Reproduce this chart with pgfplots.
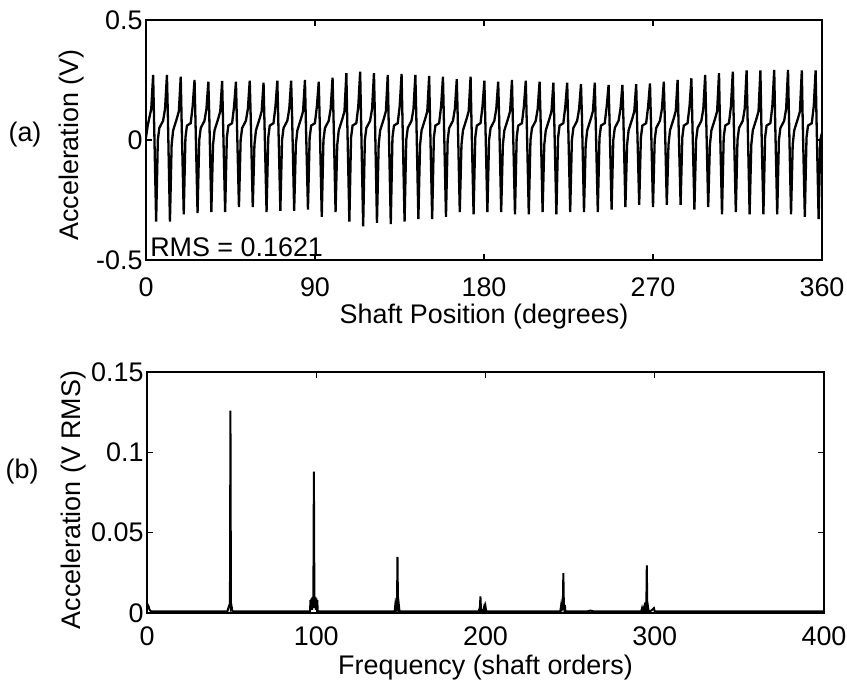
\documentclass[border=0pt]{standalone}
\usepackage{fontspec}
\setmainfont{Liberation Sans}
\usepackage{pgfplots}
\pgfplotsset{compat=1.18}

\pgfplotsset{
  matlabbox/.style={
    scale only axis,
    clip mode=individual,
    axis line style={line width=1.4bp},
    tick align=inside,
    major tick length=6bp,
    every tick/.style={line width=1.2bp, black},
    font=\fontsize{27}{31}\selectfont,
    tick label style={font=\fontsize{27}{31}\selectfont},
    label style={font=\fontsize{27}{31}\selectfont},
    /pgf/number format/assume math mode=true,
    scaled ticks=false,
  },
}

\begin{document}
\begin{tikzpicture}
\useasboundingbox (0,0) rectangle (847bp,683bp);

% (a) time signal
\begin{axis}[matlabbox,
    at={(146bp,423bp)}, anchor=south west,
    width=676bp, height=240bp,
    xmin=0, xmax=360, ymin=-0.5, ymax=0.5,
    xtick={0,90,180,270,360},
    ytick={-0.5,0,0.5}, yticklabels={-0.5,0,0.5},
    xticklabel style={yshift=-14bp},
    xlabel={Shaft Position (degrees)},
    ylabel={Acceleration (V)},
    xlabel style={at={(axis description cs:0.5,-0.237)}, anchor=center},
    ylabel style={at={(axis description cs:-0.1095,0.479)}, anchor=center},
]
\addplot[black, line width=2.3bp] coordinates {
(0,0.01)(0.9,0.06)(2.8,0.13)
(3.80,0.271)(4.30,0.08)(5.40,-0.34)(6.30,0.00)(7.10,0.05)(9.10,0.08)(10.15,0.13)
(11.15,0.271)(11.65,0.10)(12.75,-0.34)(13.65,-0.02)(14.45,0.04)(16.45,0.09)(17.50,0.12)
(18.50,0.264)(19.00,0.07)(20.10,-0.31)(21.00,0.01)(21.80,0.06)(23.80,0.07)(24.85,0.14)
(25.85,0.25)(26.35,0.08)(27.45,-0.305)(28.35,0.00)(29.15,0.05)(31.15,0.08)(32.20,0.13)
(33.20,0.243)(33.70,0.10)(34.80,-0.30)(35.70,-0.02)(36.50,0.04)(38.50,0.09)(39.55,0.12)
(40.55,0.246)(41.05,0.07)(42.15,-0.30)(43.05,0.01)(43.85,0.06)(45.85,0.07)(46.90,0.14)
(47.90,0.243)(48.40,0.08)(49.50,-0.28)(50.40,0.00)(51.20,0.05)(53.20,0.08)(54.25,0.13)
(55.25,0.247)(55.75,0.10)(56.85,-0.28)(57.75,-0.02)(58.55,0.04)(60.55,0.09)(61.60,0.12)
(62.60,0.239)(63.10,0.07)(64.20,-0.30)(65.10,0.01)(65.90,0.06)(67.90,0.07)(68.95,0.14)
(69.95,0.247)(70.45,0.08)(71.55,-0.295)(72.45,0.00)(73.25,0.05)(75.25,0.08)(76.30,0.13)
(77.30,0.247)(77.80,0.10)(78.90,-0.295)(79.80,-0.02)(80.60,0.04)(82.60,0.09)(83.65,0.12)
(84.65,0.25)(85.15,0.07)(86.25,-0.29)(87.15,0.01)(87.95,0.06)(89.95,0.07)(91.00,0.14)
(92.00,0.243)(92.50,0.08)(93.60,-0.32)(94.50,0.00)(95.30,0.05)(97.30,0.08)(98.35,0.13)
(99.35,0.26)(99.85,0.10)(100.95,-0.30)(101.85,-0.02)(102.65,0.04)(104.65,0.09)(105.70,0.12)
(106.70,0.278)(107.20,0.07)(108.30,-0.34)(109.20,0.01)(110.00,0.06)(112.00,0.07)(113.05,0.14)
(114.05,0.285)(114.55,0.08)(115.65,-0.36)(116.55,0.00)(117.35,0.05)(119.35,0.08)(120.40,0.13)
(121.40,0.278)(121.90,0.10)(123.00,-0.345)(123.90,-0.02)(124.70,0.04)(126.70,0.09)(127.75,0.12)
(128.75,0.271)(129.25,0.07)(130.35,-0.35)(131.25,0.01)(132.05,0.06)(134.05,0.07)(135.10,0.14)
(136.10,0.275)(136.60,0.08)(137.70,-0.34)(138.60,0.00)(139.40,0.05)(141.40,0.08)(142.45,0.13)
(143.45,0.271)(143.95,0.10)(145.05,-0.33)(145.95,-0.02)(146.75,0.04)(148.75,0.09)(149.80,0.12)
(150.80,0.267)(151.30,0.07)(152.40,-0.33)(153.30,0.01)(154.10,0.06)(156.10,0.07)(157.15,0.14)
(158.15,0.264)(158.65,0.08)(159.75,-0.32)(160.65,0.00)(161.45,0.05)(163.45,0.08)(164.50,0.13)
(165.50,0.253)(166.00,0.10)(167.10,-0.30)(168.00,-0.02)(168.80,0.04)(170.80,0.09)(171.85,0.12)
(172.85,0.264)(173.35,0.07)(174.45,-0.31)(175.35,0.01)(176.15,0.06)(178.15,0.07)(179.20,0.14)
(180.20,0.247)(180.70,0.08)(181.80,-0.30)(182.70,0.00)(183.50,0.05)(185.50,0.08)(186.55,0.13)
(187.55,0.243)(188.05,0.10)(189.15,-0.30)(190.05,-0.02)(190.85,0.04)(192.85,0.09)(193.90,0.12)
(194.90,0.25)(195.40,0.07)(196.50,-0.31)(197.40,0.01)(198.20,0.06)(200.20,0.07)(201.25,0.14)
(202.25,0.247)(202.75,0.08)(203.85,-0.31)(204.75,0.00)(205.55,0.05)(207.55,0.08)(208.60,0.13)
(209.60,0.243)(210.10,0.10)(211.20,-0.30)(212.10,-0.02)(212.90,0.04)(214.90,0.09)(215.95,0.12)
(216.95,0.239)(217.45,0.07)(218.55,-0.31)(219.45,0.01)(220.25,0.06)(222.25,0.07)(223.30,0.14)
(224.30,0.239)(224.80,0.08)(225.90,-0.30)(226.80,0.00)(227.60,0.05)(229.60,0.08)(230.65,0.13)
(231.65,0.233)(232.15,0.10)(233.25,-0.30)(234.15,-0.02)(234.95,0.04)(236.95,0.09)(238.00,0.12)
(239.00,0.239)(239.50,0.07)(240.60,-0.30)(241.50,0.01)(242.30,0.06)(244.30,0.07)(245.35,0.14)
(246.35,0.229)(246.85,0.08)(247.95,-0.29)(248.85,0.00)(249.65,0.05)(251.65,0.08)(252.70,0.13)
(253.70,0.229)(254.20,0.10)(255.30,-0.28)(256.20,-0.02)(257.00,0.04)(259.00,0.09)(260.05,0.12)
(261.05,0.233)(261.55,0.07)(262.65,-0.27)(263.55,0.01)(264.35,0.06)(266.35,0.07)(267.40,0.14)
(268.40,0.236)(268.90,0.08)(270.00,-0.28)(270.90,0.00)(271.70,0.05)(273.70,0.08)(274.75,0.13)
(275.75,0.243)(276.25,0.10)(277.35,-0.27)(278.25,-0.02)(279.05,0.04)(281.05,0.09)(282.10,0.12)
(283.10,0.25)(283.60,0.07)(284.70,-0.27)(285.60,0.01)(286.40,0.06)(288.40,0.07)(289.45,0.14)
(290.45,0.257)(290.95,0.08)(292.05,-0.29)(292.95,0.00)(293.75,0.05)(295.75,0.08)(296.80,0.13)
(297.80,0.271)(298.30,0.10)(299.40,-0.28)(300.30,-0.02)(301.10,0.04)(303.10,0.09)(304.15,0.12)
(305.15,0.278)(305.65,0.07)(306.75,-0.31)(307.65,0.01)(308.45,0.06)(310.45,0.07)(311.50,0.14)
(312.50,0.285)(313.00,0.08)(314.10,-0.30)(315.00,0.00)(315.80,0.05)(317.80,0.08)(318.85,0.13)
(319.85,0.29)(320.35,0.10)(321.45,-0.31)(322.35,-0.02)(323.15,0.04)(325.15,0.09)(326.20,0.12)
(327.20,0.29)(327.70,0.07)(328.80,-0.31)(329.70,0.01)(330.50,0.06)(332.50,0.07)(333.55,0.14)
(334.55,0.292)(335.05,0.08)(336.15,-0.31)(337.05,0.00)(337.85,0.05)(339.85,0.08)(340.90,0.13)
(341.90,0.292)(342.40,0.10)(343.50,-0.31)(344.40,-0.02)(345.20,0.04)(347.20,0.09)(348.25,0.12)
(349.25,0.29)(349.75,0.07)(350.85,-0.32)(351.75,0.01)(352.55,0.06)(354.55,0.07)(355.60,0.14)
(356.60,0.29)(357.10,0.08)(358.20,-0.33)(359.10,0.00)(360,0.03)
};
\node[anchor=west, inner sep=0pt] at (axis description cs:0.006,0.055) {RMS = 0.1621};
\node[anchor=center] at (axis description cs:-0.179,0.521) {(a)};
\end{axis}

% (b) order spectrum
\begin{axis}[matlabbox,
    at={(147bp,70bp)}, anchor=south west,
    width=677bp, height=241bp,
    xmin=0, xmax=400, ymin=0, ymax=0.15,
    xtick={0,100,200,300,400},
    ytick={0,0.05,0.1,0.15}, yticklabels={0,0.05,0.1,0.15},
    xticklabel style={yshift=-10bp},
    xlabel={Frequency (shaft orders)},
    ylabel={Acceleration (V RMS)},
    xlabel style={at={(axis description cs:0.5,-0.228)}, anchor=center},
    ylabel style={at={(axis description cs:-0.109,0.469)}, anchor=center},
]
\addplot[black, line width=2bp] coordinates {
(0,0.006)(0.5,0.005)(1,0.004)(1.5,0.002)(2.5,0.001)
(47.5,0.001)(48.3,0.004)(48.7,0.005)(49.0,0.003)(49.3,0.126)(49.6,0.003)(50.0,0.004)(50.5,0.001)
(96.3,0.001)(96.6,0.008)(96.9,0.002)(97.2,0.009)(97.5,0.002)(97.8,0.010)(98.1,0.003)(98.3,0.010)
(98.6,0.088)(98.9,0.010)(99.2,0.003)(99.5,0.010)(99.8,0.002)(100.1,0.009)(100.4,0.002)(100.6,0.008)(100.9,0.001)
(146.3,0.001)(146.6,0.004)(146.9,0.001)(147.2,0.004)(147.5,0.001)(147.7,0.004)(148.0,0.035)
(148.3,0.004)(148.6,0.001)(148.9,0.004)(149.2,0.001)
(195.8,0.001)(196.2,0.002)(196.6,0.001)(197.0,0.0103)(197.4,0.001)(198.5,0.001)(199.2,0.004)(199.6,0.002)(200.0,0.004)(200.4,0.001)
(244.2,0.001)(244.6,0.004)(244.9,0.001)(245.2,0.005)(245.5,0.002)(245.7,0.005)(246.0,0.0248)
(246.3,0.005)(246.6,0.002)(246.9,0.005)(247.2,0.001)
(260,0.001)(262,0.0015)(264,0.001)
(292,0.001)(292.5,0.003)(293,0.001)(293.8,0.004)(294.2,0.001)(294.6,0.004)(295.0,0.002)(295.3,0.0296)
(295.6,0.002)(296,0.004)(296.4,0.001)(298,0.0015)(299.5,0.003)(300,0.001)
(400,0.001)
};
\node[anchor=center] at (axis description cs:-0.1846,0.585) {(b)};
\end{axis}
\end{tikzpicture}
\end{document}
